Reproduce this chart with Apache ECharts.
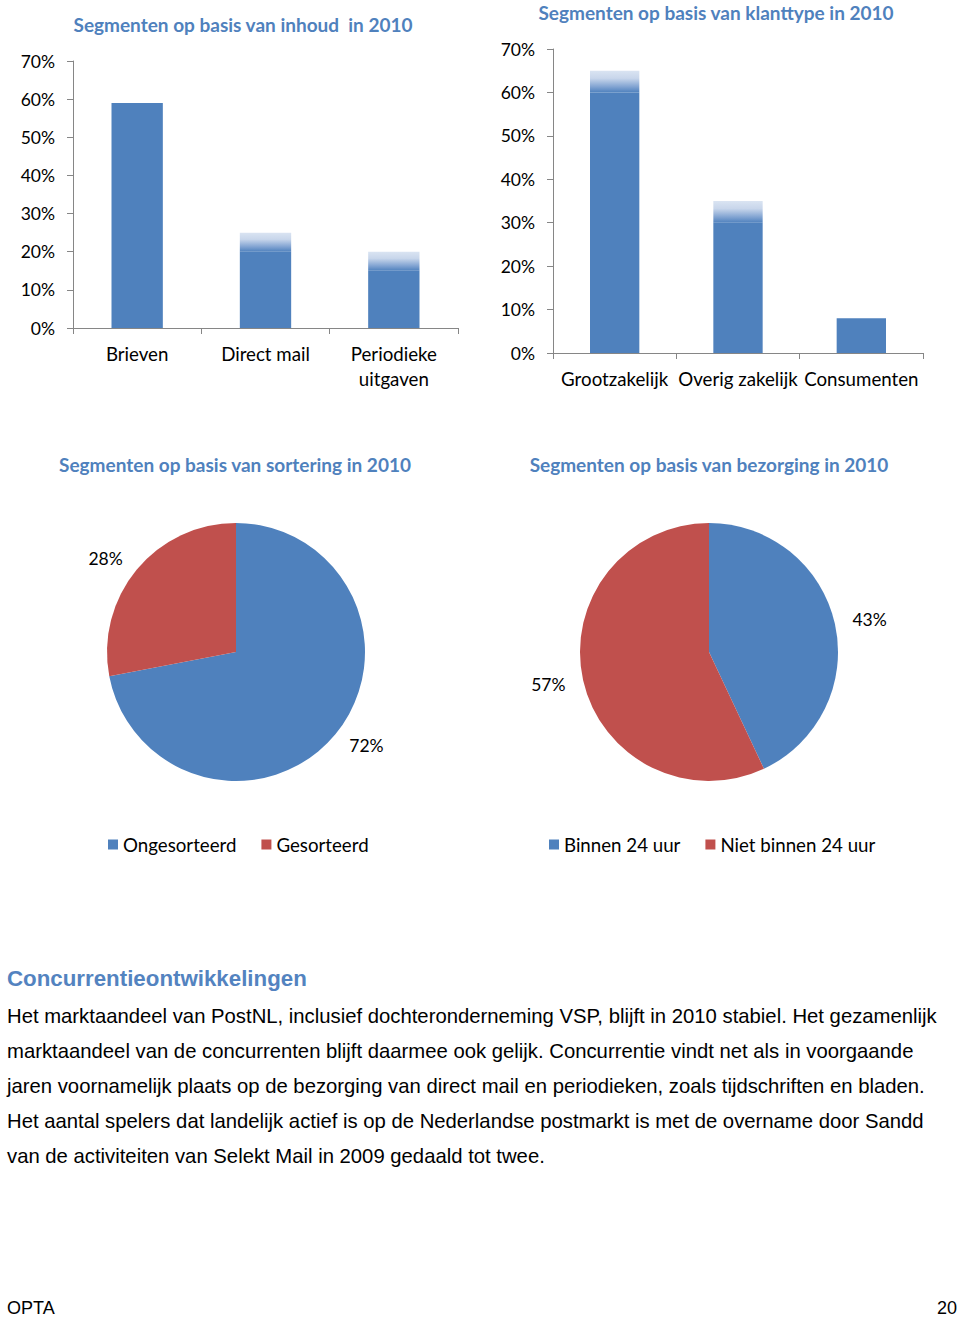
<!DOCTYPE html>
<html>
<head>
<meta charset="utf-8">
<script src="https://cdn.jsdelivr.net/npm/echarts@6/dist/echarts.min.js"></script>
<style>
html,body{margin:0;padding:0;background:#fff;}
#c{width:960px;height:1319px;}
</style>
</head>
<body>
<div id="c"></div>
<script>
// ---- data ----
const inhoudCategories = ['Brieven', 'Direct mail', 'Periodieke\nuitgaven'];
const inhoudBase = [59, 20, 15];
const inhoudRange = [0, 5, 5];
const klantCategories = ['Grootzakelijk', 'Overig zakelijk', 'Consumenten'];
const klantBase = [60, 30, 8];
const klantRange = [5, 5, 0];
const yMax = 70;
const yStep = 10;
const sorteringNames = ['Ongesorteerd', 'Gesorteerd'];
const sorteringValues = [72, 28];
const bezorgingNames = ['Binnen 24 uur', 'Niet binnen 24 uur'];
const bezorgingValues = [43, 57];
const titles = [
  'Segmenten op basis van inhoud  in 2010',
  'Segmenten op basis van klanttype in 2010',
  'Segmenten op basis van sortering in 2010',
  'Segmenten op basis van bezorging in 2010'
];
const heading = 'Concurrentieontwikkelingen';
const bodyLines = [
  'Het marktaandeel van PostNL, inclusief dochteronderneming VSP, blijft in 2010 stabiel. Het gezamenlijk',
  'marktaandeel van de concurrenten blijft daarmee ook gelijk. Concurrentie vindt net als in voorgaande',
  'jaren voornamelijk plaats op de bezorging van direct mail en periodieken, zoals tijdschriften en bladen.',
  'Het aantal spelers dat landelijk actief is op de Nederlandse postmarkt is met de overname door Sandd',
  'van de activiteiten van Selekt Mail in 2009 gedaald tot twee.'
];
const footerLeft = 'OPTA';
const footerRight = '20';

// ---- styles ----
const BLUE = '#4f81bd';
const RED = '#c0504d';
const CFONT = 'Lato, "Open Sans", sans-serif';
const AFONT = '"Liberation Sans", Arial, sans-serif';
const fadeColor = new echarts.graphic.LinearGradient(0, 0, 0, 1, [
  {offset: 0, color: '#dae4f2'},
  {offset: 0.35, color: '#c8d6eb'},
  {offset: 0.75, color: '#7fa2d1'},
  {offset: 1, color: BLUE}
]);

function yAxis(gridIndex) {
  return {
    type: 'value', gridIndex, min: 0, max: yMax, interval: yStep,
    axisLine: {show: true, lineStyle: {color: '#868686'}},
    axisTick: {show: true, length: 6, lineStyle: {color: '#868686'}},
    splitLine: {show: false},
    axisLabel: {formatter: '{value}%', color: '#000', fontFamily: CFONT, fontSize: 17.5, margin: 18}
  };
}
function xAxis(gridIndex, cats) {
  return {
    type: 'category', gridIndex, data: cats,
    axisLine: {show: true, lineStyle: {color: '#868686'}},
    axisTick: {show: true, length: 6, lineStyle: {color: '#868686'}},
    axisLabel: {color: '#000', fontFamily: CFONT, fontSize: 18.7, margin: 13, lineHeight: 25, interval: 0}
  };
}
function barPair(idx, base, range) {
  return [
    {type: 'bar', xAxisIndex: idx, yAxisIndex: idx, stack: 's' + idx, data: base,
     barWidth: '40%', itemStyle: {color: BLUE}, silent: true},
    {type: 'bar', xAxisIndex: idx, yAxisIndex: idx, stack: 's' + idx, data: range,
     barWidth: '40%', itemStyle: {color: fadeColor}, silent: true}
  ];
}
function pie(center, names, values) {
  return {
    type: 'pie', center, radius: 129, startAngle: 90, clockwise: true,
    silent: true,
    data: names.map((n, i) => ({name: n, value: values[i], itemStyle: {color: i === 0 ? BLUE : RED}})),
    label: {show: true, position: 'outside', formatter: '{c}%', color: '#000', fontFamily: CFONT, fontSize: 17.5, distanceToLabelLine: 0},
    labelLine: {show: false, length: 18, length2: 0}
  };
}
function legend(names, left) {
  return {data: names, left, top: 835, padding: 0, icon: 'rect', itemWidth: 10, itemHeight: 10, itemGap: 25,
    textStyle: {fontFamily: CFONT, fontSize: 18.7, color: '#000', padding: [0, 0, 0, 0]}, selectedMode: false};
}
function txt(text, x, y, font, fill, align) {
  return {type: 'text', x, y, style: {text, font, fill, align: align || 'left', verticalAlign: 'middle'}};
}

const chart = echarts.init(document.getElementById('c'), null, {renderer: 'svg'});
const graphics = [
  txt(titles[0], 243, 24, 'bold 19px ' + CFONT, BLUE, 'center'),
  txt(titles[1], 716, 12, 'bold 19px ' + CFONT, BLUE, 'center'),
  txt(titles[2], 235, 464, 'bold 19px ' + CFONT, BLUE, 'center'),
  txt(titles[3], 709, 464, 'bold 19px ' + CFONT, BLUE, 'center'),
  txt(heading, 7, 978, 'bold 22.3px ' + AFONT, '#5383c0', 'left'),
  txt(footerLeft, 7, 1308, '18px ' + AFONT, '#000', 'left'),
  txt(footerRight, 957, 1308, '18px ' + AFONT, '#000', 'right')
];
bodyLines.forEach((l, i) => graphics.push(txt(l, 7, 1016 + i * 35, '20.3px ' + AFONT, '#000', 'left')));

chart.setOption({
  animation: false,
  grid: [
    {left: 73, top: 61, width: 385, height: 267},
    {left: 553, top: 49, width: 370, height: 304}
  ],
  xAxis: [xAxis(0, inhoudCategories), xAxis(1, klantCategories)],
  yAxis: [yAxis(0), yAxis(1)],
  legend: [legend(sorteringNames, 108), legend(bezorgingNames, 549)],
  series: [
    ...barPair(0, inhoudBase, inhoudRange),
    ...barPair(1, klantBase, klantRange),
    pie([236, 652], sorteringNames, sorteringValues),
    pie([709, 652], bezorgingNames, bezorgingValues)
  ],
  graphic: graphics
});
</script>
</body>
</html>
